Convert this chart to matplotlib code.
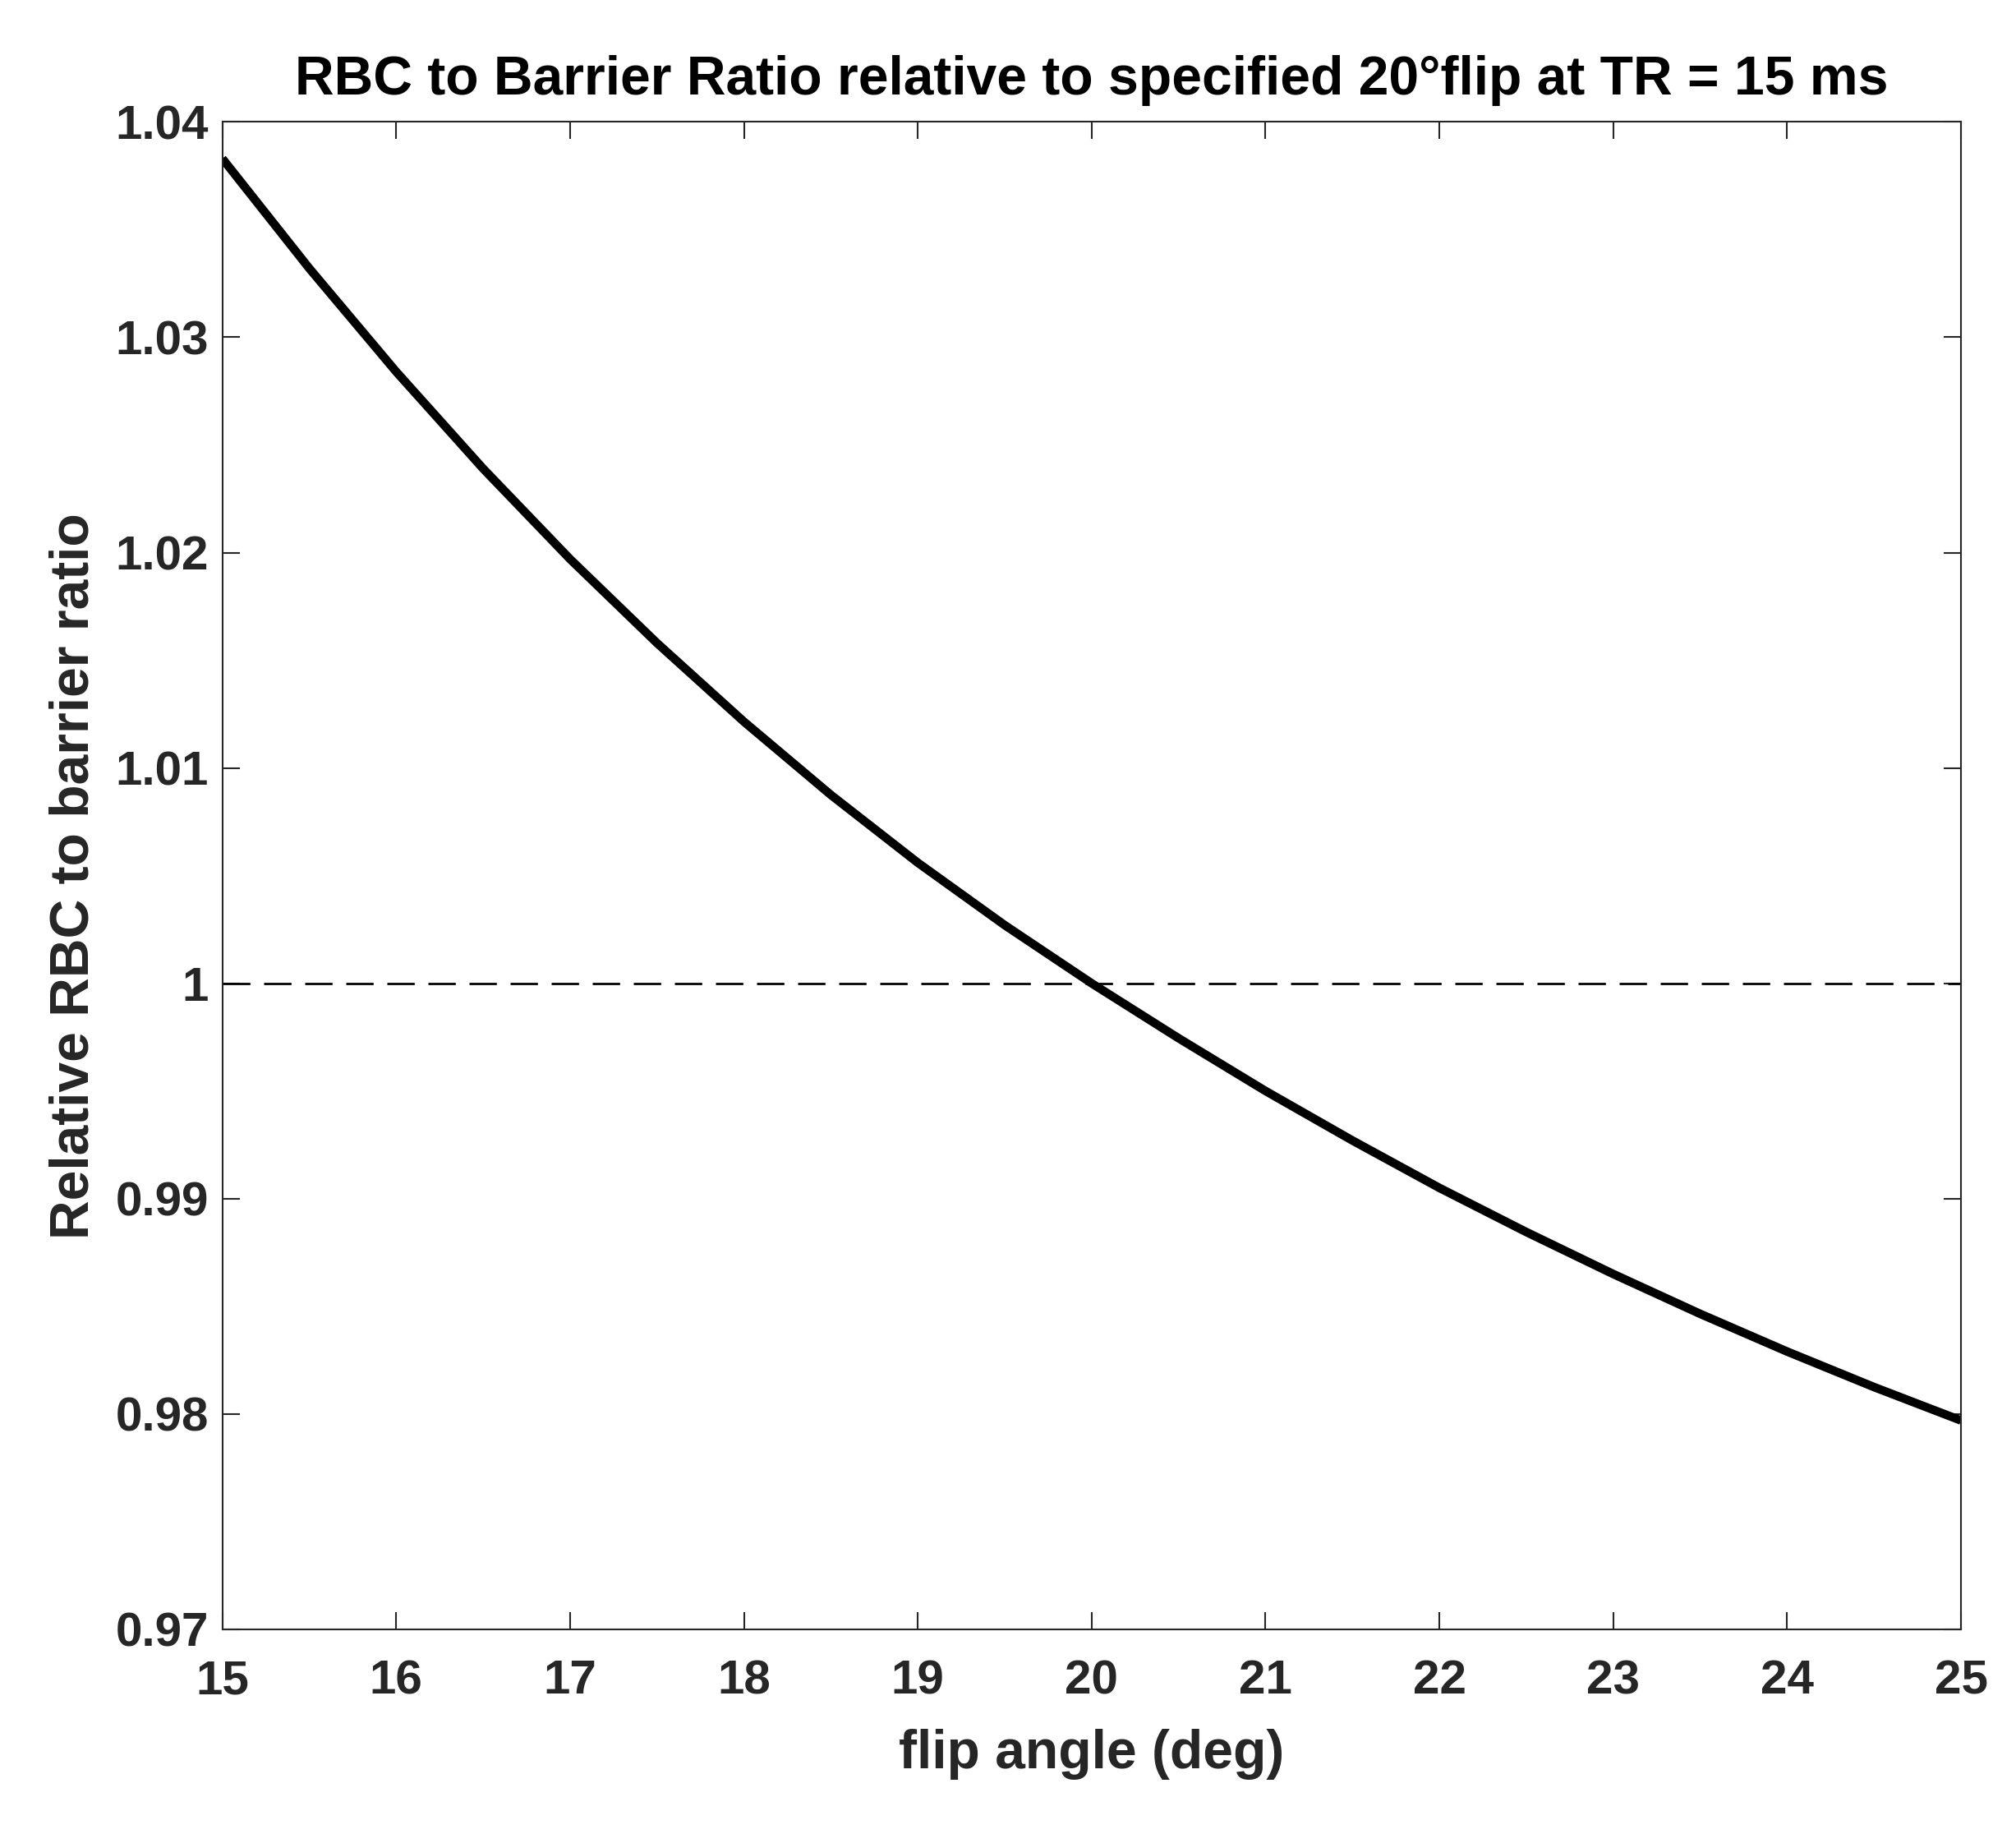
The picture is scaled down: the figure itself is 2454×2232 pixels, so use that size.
import matplotlib
matplotlib.use('Agg')
import matplotlib.pyplot as plt

# values
flip_angle = [15, 15.5, 16, 16.5, 17, 17.5, 18, 18.5, 19, 19.5, 20,
              20.5, 21, 21.5, 22, 22.5, 23, 23.5, 24, 24.5, 25]
rel_ratio = [1.0383, 1.0332, 1.0284, 1.0239, 1.0197, 1.0158, 1.01215, 1.00875,
             1.0056, 1.0027, 1.0000, 0.99745, 0.9950, 0.9927, 0.9905, 0.98845,
             0.9865, 0.98465, 0.9829, 0.98125, 0.9797]

x_ticks = list(range(15, 26))
y_ticks = [0.97, 0.98, 0.99, 1.00, 1.01, 1.02, 1.03, 1.04]
y_tick_labels = ['0.97', '0.98', '0.99', '1', '1.01', '1.02', '1.03', '1.04']

plt.rcParams['font.family'] = ['Liberation Sans', 'DejaVu Sans']
plt.rcParams['font.weight'] = 'bold'

grey = '#262626'

fig = plt.figure(figsize=(24.54, 22.32), dpi=100)
ax = fig.add_axes([0.1103, 0.1116, 0.8624, 0.8219])

ax.plot(flip_angle, rel_ratio, color='black', linewidth=7.5,
        solid_joinstyle='round', solid_capstyle='butt')
ax.axhline(1.0, color='black', linewidth=2, dashes=(12, 6))

ax.set_xlim(15, 25)
ax.set_ylim(0.97, 1.04)
ax.set_xticks(x_ticks)
ax.set_yticks(y_ticks)
ax.set_yticklabels(y_tick_labels)

ax.tick_params(direction='in', length=15, width=1.5, colors=grey,
               labelsize=42, top=True, right=True)
ax.tick_params(axis='x', pad=26)
ax.tick_params(axis='y', pad=12)
for lab in ax.get_xticklabels() + ax.get_yticklabels():
    lab.set_fontweight('bold')
for sp in ax.spines.values():
    sp.set_color(grey)
    sp.set_linewidth(1.5)

ax.set_title('RBC to Barrier Ratio relative to specified 20\u00b0flip at TR = 15 ms',
             fontsize=47.5, fontweight='bold', color='black', pad=24)
ax.set_xlabel('flip angle (deg)', fontsize=47.5, fontweight='bold', color=grey, labelpad=22)
ax.set_ylabel('Relative RBC to barrier ratio', fontsize=47.5, fontweight='bold', color=grey, labelpad=14)

fig.savefig('out.png', dpi=100, facecolor='white')
